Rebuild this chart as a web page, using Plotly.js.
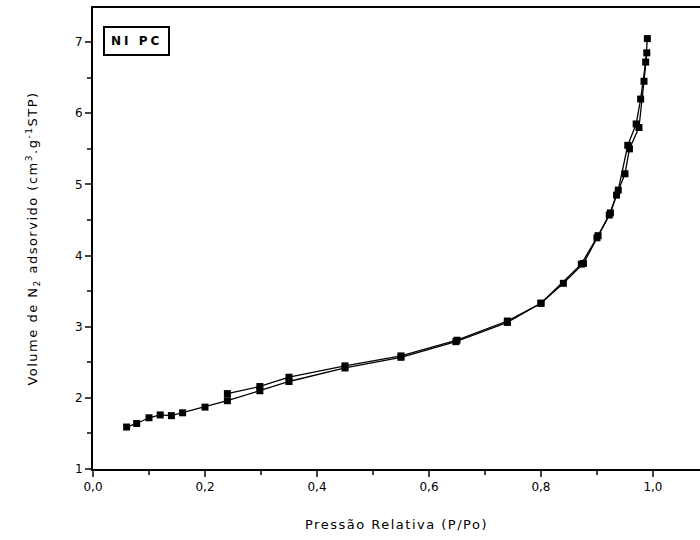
<!DOCTYPE html>
<html><head><meta charset="utf-8">
<script src="https://cdn.plot.ly/plotly-3.0.1.min.js"></script>
<style>
body{margin:0;background:#fff}#c{width:700px;height:540px}
.xtitle,.ytitle{letter-spacing:1.5px}
.annotation-text{letter-spacing:3px}
</style>
</head><body><div id="c"></div>
<script>
const adsX = [0.060,0.078,0.100,0.120,0.140,0.160,0.200,0.240,0.298,0.350,0.450,0.550,0.648,0.740,0.800,0.840,0.876,0.900,0.922,0.935,0.950,0.958,0.975,0.984,0.989];
const adsY = [1.59,1.64,1.72,1.76,1.75,1.79,1.87,1.96,2.10,2.23,2.42,2.57,2.79,3.06,3.33,3.61,3.89,4.25,4.57,4.85,5.15,5.50,5.80,6.45,6.85];
const desX = [0.990,0.987,0.978,0.970,0.955,0.938,0.924,0.902,0.872,0.800,0.740,0.650,0.550,0.450,0.350,0.298,0.240];
const desY = [7.05,6.72,6.20,5.85,5.55,4.92,4.60,4.28,3.88,3.33,3.08,2.81,2.59,2.45,2.29,2.16,2.06];
const xTitle = "Pressão Relativa (P/Po)";
const yTitle = "Volume de N<sub>2</sub> adsorvido (cm<sup>3</sup>.g<sup>-1</sup>STP)";
const boxLabel = "NI PC";

const mk = {symbol:'square', size:7, color:'#000'};
const ln = {color:'#000', width:1.3};
const traces = [
  {x:adsX, y:adsY, mode:'lines+markers', marker:mk, line:ln, showlegend:false},
  {x:desX, y:desY, mode:'lines+markers', marker:mk, line:ln, showlegend:false}
];
const fam = '"DejaVu Sans", "Liberation Sans", Arial, sans-serif';
const fnt = {family:fam, size:12, color:'#000'};
const tfnt = {family:fam, size:13, color:'#000'};
const layout = {
  width:700, height:540,
  margin:{l:93, r:0, t:8, b:71},
  paper_bgcolor:'#fff', plot_bgcolor:'#fff',
  separators:',.',
  font:fnt,
  xaxis:{range:[0,1.084], dtick:0.2, tick0:0, tickformat:'.1f', ticks:'outside', ticklen:6, tickwidth:2,
    minor:{dtick:0.1, ticks:'outside', ticklen:4, tickwidth:2, showgrid:false},
    showline:true, linewidth:2, linecolor:'#000', mirror:true, showgrid:false, zeroline:false,
    title:{text:xTitle, font:tfnt, standoff:26}},
  yaxis:{range:[1,7.48], dtick:1, tick0:1, ticks:'outside', ticklen:6, tickwidth:2,
    minor:{dtick:0.5, ticks:'outside', ticklen:4, tickwidth:2, showgrid:false},
    showline:true, linewidth:2, linecolor:'#000', showgrid:false, zeroline:false,
    title:{text:yTitle, font:tfnt, standoff:34}},
  annotations:[{text:'<b>'+boxLabel+'</b>', xref:'paper', yref:'paper', x:0.017, y:0.96, xanchor:'left', yanchor:'top',
    showarrow:false, bordercolor:'#000', borderwidth:2, borderpad:6, font:{family:fam, size:12, color:'#000'}, bgcolor:'#fff'}]
};
Plotly.newPlot('c', traces, layout, {displayModeBar:false, staticPlot:true});
</script></body></html>
